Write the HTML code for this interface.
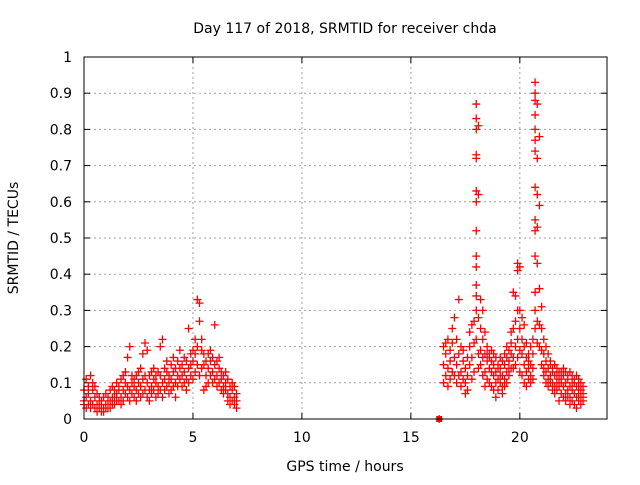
<!DOCTYPE html>
<html><head><meta charset="utf-8"><style>
body{margin:0;background:#fff;}
svg text{font-family:"DejaVu Sans","Liberation Sans",sans-serif;font-size:14px;fill:#000;}
</style></head><body>
<svg id="chart" width="640" height="480" xmlns="http://www.w3.org/2000/svg">
<rect width="640" height="480" fill="#fff"/>
<text x="345" y="33" text-anchor="middle">Day 117 of 2018, SRMTID for receiver chda</text>
<text x="345" y="471" text-anchor="middle">GPS time / hours</text>
<text transform="translate(18,238) rotate(-90)" text-anchor="middle">SRMTID / TECUs</text>
<g id="grid"></g><g id="ticks"></g><g id="marks"></g>
<rect x="84" y="57" width="523" height="362" fill="none" stroke="#000" stroke-width="1"/>
</svg>
<script>
const xTicks=[0,5,10,15,20];
const yTicks=[0,0.1,0.2,0.3,0.4,0.5,0.6,0.7,0.8,0.9,1];
const yTickLabels=["0","0.1","0.2","0.3","0.4","0.5","0.6","0.7","0.8","0.9","1"];
const times=[0.0,0.1,0.2,0.3,0.4,0.5,0.6,0.7,0.8,0.9,1.0,1.1,1.2,1.3,1.4,1.5,1.6,1.7,1.8,1.9,2.0,2.1,2.2,2.3,2.4,2.5,2.6,2.7,2.8,2.9,3.0,3.1,3.2,3.3,3.4,3.5,3.6,3.7,3.8,3.9,4.0,4.1,4.2,4.3,4.4,4.5,4.6,4.7,4.8,4.9,5.0,5.1,5.2,5.3,5.4,5.5,5.6,5.7,5.8,5.9,6.0,6.1,6.2,6.3,6.4,6.5,6.6,6.7,6.8,6.9,7.0,
16.3,16.5,16.6,16.7,16.8,16.9,17.0,17.1,17.2,17.3,17.4,17.5,17.6,17.7,17.8,17.9,18.0,18.1,18.2,18.3,18.4,18.5,18.6,18.7,18.8,18.9,19.0,19.1,19.2,19.3,19.4,19.5,19.6,19.7,19.8,19.9,20.0,20.1,20.2,20.3,20.4,20.5,20.6,20.7,20.8,20.9,21.0,21.1,21.2,21.3,21.4,21.5,21.6,21.7,21.8,21.9,22.0,22.1,22.2,22.3,22.4,22.5,22.6,22.7,22.8,22.9];
const values=[[.05,.08,.04],[.06,.11,.03],[.04,.09,.07],[.05,.12,.03],[.08,.10,.04],[.06,.09,.03],[.04,.07,.02],[.03,.06,.05],[.02,.05,.04],[.03,.06,.02],[.04,.07,.03],[.03,.06,.05],[.05,.08,.03],[.04,.09,.06],[.06,.08,.04],[.07,.10,.05],[.05,.09,.08],[.06,.11,.04],[.08,.12,.05],[.07,.10,.13],[.09,.17,.06],[.08,.20,.05],[.10,.12,.07],[.06,.09,.11],[.08,.12,.05],[.07,.10,.13],[.09,.14,.06],[.11,.18,.07],[.12,.21,.08],[.10,.19,.06],[.08,.12,.05],[.09,.13,.07],[.11,.08,.14],[.10,.06,.12],[.09,.13,.07],[.12,.20,.08],[.10,.22,.06],[.11,.14,.08],[.13,.09,.16],[.12,.10,.07],[.11,.15,.08],[.13,.09,.17],[.10,.14,.06],[.12,.16,.09],[.14,.11,.19],[.12,.15,.09],[.13,.17,.10],[.11,.16,.08],[.14,.25,.10],[.15,.12,.18],[.16,.11,.19],[.18,.13,.22],[.20,.33,.15],[.27,.32,.12],[.19,.14,.22],[.15,.08,.18],[.12,.16,.09],[.14,.18,.10],[.16,.12,.19],[.13,.17,.10],[.15,.26,.11],[.12,.16,.09],[.14,.10,.17],[.11,.13,.08],[.09,.12,.07],[.10,.08,.13],[.07,.11,.05],[.06,.09,.04],[.08,.05,.10],[.06,.04,.09],[.05,.07,.03],
[0,0,0],[.20,.15,.10],[.18,.12,.21],[.14,.22,.09],[.19,.11,.16],[.21,.13,.25],[.17,.28,.12],[.15,.22,.10],[.33,.18,.12],[.13,.20,.09],[.16,.11,.19],[.10,.14,.07],[.12,.17,.08],[.20,.24,.15],[.17,.26,.11],[.21,.13,.27],[.87,.83,.80,.73,.72,.63,.60,.52,.45,.42,.37,.34,.30,.22],[.81,.62,.28,.18,.14],[.25,.33,.19,.15],[.22,.30,.17,.12],[.18,.24,.13,.09],[.16,.20,.11,.18],[.14,.18,.10,.17],[.19,.13,.09,.16],[.15,.12,.18,.08],[.13,.17,.10,.06],[.11,.15,.08,.14],[.14,.10,.17,.12],[.12,.09,.16,.07],[.15,.11,.18,.09],[.13,.17,.10,.20],[.16,.12,.19,.14],[.18,.14,.21,.24],[.25,.17,.14,.35],[.27,.34,.20,.15],[.43,.41,.30,.22,.17],[.42,.30,.25,.19,.13],[.28,.22,.18,.12],[.26,.20,.15,.10],[.21,.17,.13,.09],[.18,.14,.11,.16],[.15,.12,.10,.20],[.18,.14,.22,.11],[.93,.90,.88,.84,.80,.77,.74,.64,.55,.52,.45,.35,.30,.25],[.87,.72,.62,.53,.43,.27,.21],[.78,.59,.36,.26,.20],[.31,.25,.19,.15],[.22,.18,.14,.12],[.20,.16,.13,.10],[.18,.14,.11,.09],[.15,.12,.10,.16],[.13,.10,.08,.14],[.12,.09,.15,.07],[.14,.10,.08,.12],[.11,.05,.09,.13],[.13,.10,.07,.12],[.12,.09,.06,.14],[.10,.07,.05,.13],[.11,.08,.06,.12],[.13,.09,.06,.04],[.12,.08,.05,.10],[.10,.07,.04,.11],[.09,.06,.03,.12],[.11,.07,.05,.09],[.08,.06,.04,.10],[.07,.05,.09,.06]];
const NS="http://www.w3.org/2000/svg";
const X0=84,X1=607,Y0=419,Y1=57,XMAX=24;
function xs(t){return X0+(X1-X0)*t/XMAX;}
function ys(v){return Y0-(Y0-Y1)*v;}
function mk(tag,attrs,parent){const e=document.createElementNS(NS,tag);for(const k in attrs)e.setAttribute(k,attrs[k]);parent.appendChild(e);return e;}
const grid=document.getElementById('grid'),ticks=document.getElementById('ticks'),marks=document.getElementById('marks');
xTicks.forEach(t=>{const x=xs(t);
 if(t>0){const g=mk('line',{x1:x,x2:x,y1:Y0,y2:Y1,stroke:'#a0a0a0','stroke-dasharray':'2,3'},grid);
 
 }
 mk('line',{x1:x,x2:x,y1:Y0,y2:Y0-6,stroke:'#000'},ticks);
 mk('line',{x1:x,x2:x,y1:Y1,y2:Y1+6,stroke:'#000'},ticks);
 const l=mk('text',{x:x,y:Y0+23,'text-anchor':'middle'},ticks);l.textContent=t;
 
 
});
yTicks.forEach((v,i)=>{const y=ys(v);
 if(v>0&&v<1){const g=mk('line',{x1:X0,x2:X1,y1:y,y2:y,stroke:'#a0a0a0','stroke-dasharray':'2,3'},grid);
 
 }
 mk('line',{x1:X0,x2:X0+6,y1:y,y2:y,stroke:'#000'},ticks);
 mk('line',{x1:X1,x2:X1-6,y1:y,y2:y,stroke:'#000'},ticks);
 const l=mk('text',{x:X0-12,y:y+5,'text-anchor':'end'},ticks);l.textContent=yTickLabels[i];
 
 
});
let d='';
times.forEach((t,i)=>{values[i].forEach(v=>{const x=xs(t),y=ys(v);d+=`M${x-4} ${y}h8M${x} ${y-4}v8`;});});
const p=mk('path',{d:d,stroke:'#ff0000','stroke-width':1.3,fill:'none'},marks);


const sq=mk('rect',{x:xs(16.3)-3,y:ys(0)-3,width:6,height:6,fill:'#ff0000'},marks);


</script>
</body></html>
